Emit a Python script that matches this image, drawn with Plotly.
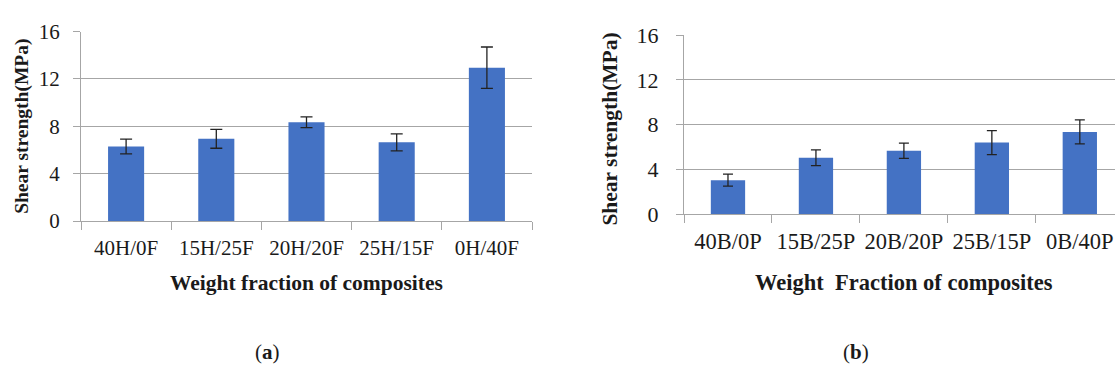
import plotly.graph_objects as go

# ---- data ----
cats_a = ["40H/0F", "15H/25F", "20H/20F", "25H/15F", "0H/40F"]
vals_a = [6.3, 6.95, 8.35, 6.65, 12.95]
err_a = [0.62, 0.8, 0.45, 0.72, 1.75]

cats_b = ["40B/0P", "15B/25P", "20B/20P", "25B/15P", "0B/40P"]
vals_b = [3.05, 5.05, 5.68, 6.4, 7.35]
err_b = [0.53, 0.7, 0.68, 1.07, 1.07]

y_ticks = [0, 4, 8, 12, 16]
ytitle = "Shear strength(MPa)"
xtitle_a = "Weight fraction of composites"
xtitle_b = "Weight  Fraction of composites"

W, H = 1115, 376
BLUE = "#4472C4"
GRID = "#A6A6A6"
TXT = "#1a1a1a"
FONT = "Liberation Serif"

def px(x):
    return x / W

def py(y):
    return (H - y) / H

fig = go.Figure()
fig.add_trace(go.Bar(
    x=cats_a, y=vals_a, width=0.4, marker=dict(color=BLUE, line=dict(width=0)),
    error_y=dict(type="data", array=err_a, visible=True, color="#222222", thickness=1.3, width=6),
    xaxis="x", yaxis="y", showlegend=False,
))
fig.add_trace(go.Bar(
    x=cats_b, y=vals_b, width=0.39, marker=dict(color=BLUE, line=dict(width=0)),
    error_y=dict(type="data", array=err_b, visible=True, color="#222222", thickness=1.3, width=5),
    xaxis="x2", yaxis="y2", showlegend=False,
))

def xax(domain, rng, size, standoff, anchor):
    return dict(domain=domain, range=rng, type="category", showgrid=False, anchor=anchor,
                showline=True, linecolor=GRID, linewidth=1.3,
                ticks="outside", tickson="boundaries", ticklen=8, tickcolor=GRID, tickwidth=1.3,
                tickangle=0,
                tickfont=dict(family=FONT, size=size, color=TXT), ticklabelstandoff=standoff,
                zeroline=False, fixedrange=True)

def yax(domain, anchor, size, standoff):
    return dict(domain=domain, range=[0, 16], tickvals=y_ticks, anchor=anchor,
                showgrid=True, gridcolor=GRID, gridwidth=1.3,
                showline=True, linecolor=GRID, linewidth=1.3,
                ticks="outside", ticklen=7, tickcolor=GRID, tickwidth=1.3,
                tickfont=dict(family=FONT, size=size, color=TXT), ticklabelstandoff=standoff,
                zeroline=False, fixedrange=True)

fig.update_layout(
    width=W, height=H, margin=dict(l=0, r=0, t=0, b=0),
    paper_bgcolor="white", plot_bgcolor="white",
    xaxis=xax([px(81), px(532)], [-0.5, 4.5], 21, 8, "y"),
    yaxis=yax([py(224), py(21)], "x", 21, 9),
    xaxis2=xax([px(684), 1.0], [-0.5, 4.4], 22.5, 7, "y2"),
    yaxis2=yax([py(216.7), py(24.7)], "x2", 22, 13),
)

anns = [
    dict(text="<b>%s</b>" % ytitle, x=px(22), y=py(123), textangle=-90, size=19.5),
    dict(text="<b>%s</b>" % ytitle, x=px(610), y=py(126), textangle=-90, size=21.5),
    dict(text="<b>%s</b>" % xtitle_a, x=px(307), y=py(290), textangle=0, size=21.5),
    dict(text="<b>%s</b>" % xtitle_b, x=px(904), y=py(290), textangle=0, size=22.5),
    dict(text="(<b>a</b>)", x=px(267), y=py(364), textangle=0, size=21),
    dict(text="(<b>b</b>)", x=px(856), y=py(364), textangle=0, size=21),
]
for a in anns:
    fig.add_annotation(text=a["text"], x=a["x"], y=a["y"], xref="paper", yref="paper",
                       xanchor="center", yanchor="middle", showarrow=False,
                       textangle=a["textangle"],
                       font=dict(family=FONT, size=a["size"], color=TXT))

fig.write_html("out.html")
